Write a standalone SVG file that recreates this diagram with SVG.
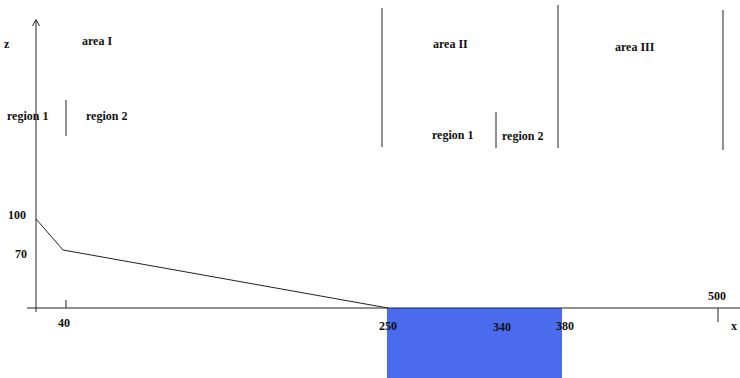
<svg xmlns="http://www.w3.org/2000/svg" width="740" height="378" viewBox="0 0 740 378">
  <style>
    .ln { stroke: #222; stroke-width: 1; fill: none; }
    .lbl { font-family: "Liberation Serif", "DejaVu Serif", serif; font-weight: bold; font-size: 12px; fill: #111; }
  </style>
  <rect width="740" height="378" fill="#fff"/>

  <!-- channel block -->
  <rect id="block" x="387" y="308" width="175" height="70" fill="#4b6bef"/>

  <!-- axes -->
  <g id="axes">
    <line class="ln" x1="36" y1="312" x2="36" y2="20"/>
    <path class="ln" d="M32.5,26 L36,19.5 L39.5,26"/>
    <line class="ln" x1="27" y1="308" x2="740" y2="308"/>
    <line class="ln" x1="66" y1="300" x2="66" y2="308"/>
    <line class="ln" x1="718" y1="308" x2="718" y2="322"/>
  </g>

  <!-- profile -->
  <polyline id="profile" class="ln" points="36,219 63,250 388,308"/>

  <!-- area and region dividers -->
  <g id="dividers">
    <line class="ln" x1="66" y1="100" x2="66" y2="136"/>
    <line class="ln" x1="382" y1="8" x2="382" y2="147"/>
    <line class="ln" x1="496" y1="112" x2="496" y2="148"/>
    <line class="ln" x1="558" y1="5" x2="558" y2="148"/>
    <line class="ln" x1="723" y1="10" x2="723" y2="150"/>
  </g>

  <!-- labels -->
  <g id="labels">
    <text class="lbl" x="4" y="48">z</text>
    <text class="lbl" x="82" y="45">area I</text>
    <text class="lbl" x="7" y="120">region 1</text>
    <text class="lbl" x="86" y="120">region 2</text>
    <text class="lbl" x="433" y="48">area II</text>
    <text class="lbl" x="615" y="51">area III</text>
    <text class="lbl" x="432" y="139">region 1</text>
    <text class="lbl" x="502" y="140">region 2</text>
    <text class="lbl" x="8" y="219">100</text>
    <text class="lbl" x="15" y="258">70</text>
    <text class="lbl" x="58" y="327">40</text>
    <text class="lbl" x="379" y="330">250</text>
    <text class="lbl" x="493" y="331">340</text>
    <text class="lbl" x="556" y="330">380</text>
    <text class="lbl" x="708" y="300">500</text>
    <text class="lbl" x="731" y="330">x</text>
  </g>
</svg>
